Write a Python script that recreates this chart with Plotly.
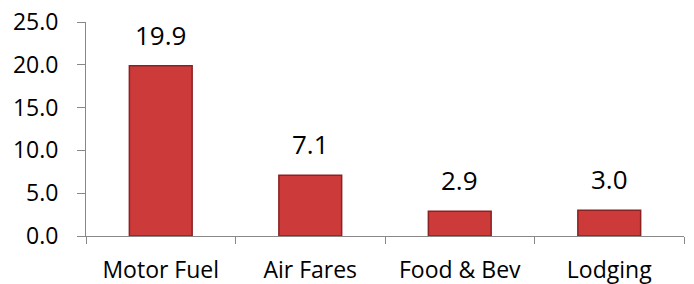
import plotly.graph_objects as go

categories = ["Motor Fuel", "Air Fares", "Food & Bev", "Lodging"]
values = [19.9, 7.1, 2.9, 3.0]
y_ticks = [0, 5, 10, 15, 20, 25]

FONT = "Open Sans"

fig = go.Figure()
fig.add_trace(go.Bar(
    x=categories, y=values,
    marker=dict(color="#CC3A3A", line=dict(color="#8A2222", width=1.5)),
    width=0.42,
    hoverinfo="skip",
))

for c, v in zip(categories, values):
    fig.add_annotation(x=c, y=v, text=f"{v:.1f}", showarrow=False,
                       yanchor="bottom", yshift=11,
                       font=dict(family=FONT, size=26, color="black"))

fig.update_layout(
    width=694, height=284,
    margin=dict(l=86, r=10, t=22, b=48),
    paper_bgcolor="white", plot_bgcolor="white",
    showlegend=False,
    font=dict(family=FONT, size=23, color="black"),
)
fig.update_xaxes(
    range=[-0.5, 3.5], showgrid=False, automargin=False,
    showline=True, linecolor="#888888", linewidth=1,
    ticks="outside", tickson="boundaries", ticklen=7, tickcolor="#888888",
    ticklabelstandoff=13,
)
fig.update_yaxes(
    range=[0, 25], tickvals=y_ticks, tickformat=".1f", showgrid=False,
    automargin=False,
    showline=True, linecolor="#888888", linewidth=1,
    ticks="outside", ticklen=8, tickcolor="#888888",
    ticklabelstandoff=14, zeroline=False,
)

fig.write_html("out.html", config={"displayModeBar": False},
               post_script="document.body.style.margin='0';document.body.style.overflow='hidden';")
